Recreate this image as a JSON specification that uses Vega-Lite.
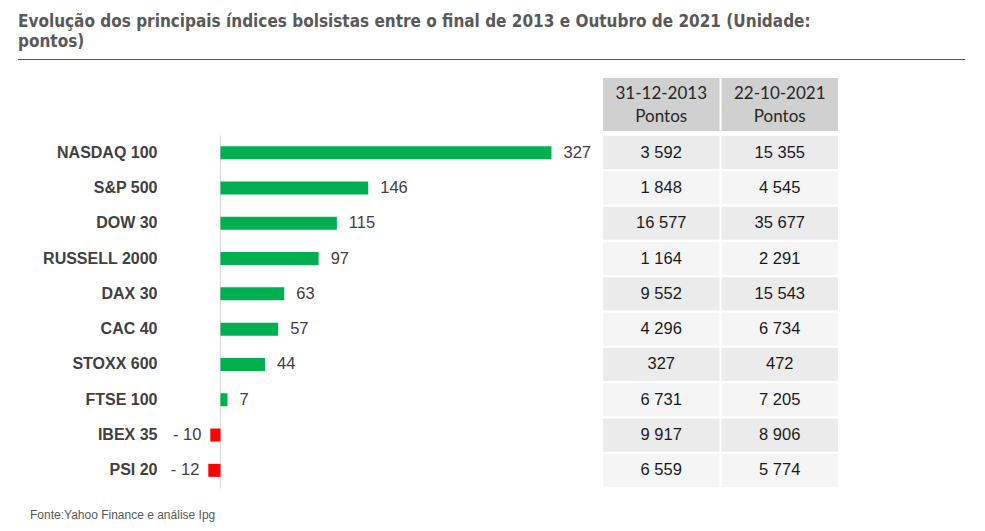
{
  "$schema": "https://vega.github.io/schema/vega-lite/v6.json",
  "padding": {"left": 18, "right": 20, "top": 12, "bottom": 6},
  "background": "white",
  "spacing": 18,
  "bounds": "flush",
  "vconcat": [
    {
      "width": 947,
      "height": 1,
      "view": {"fill": "#595959", "stroke": null},
      "data": {"values": [{"a": 1}]},
      "mark": {"type": "text", "text": ""},
      "title": {
        "text": "Evolução dos principais índices bolsistas entre o final de 2013 e Outubro de 2021 (Unidade:",
        "subtitle": "pontos)",
        "anchor": "start",
        "font": "DejaVu Sans Condensed, Liberation Sans, sans-serif",
        "fontSize": 17,
        "fontWeight": "bold",
        "color": "#595959",
        "subtitleFont": "DejaVu Sans Condensed, Liberation Sans, sans-serif",
        "subtitleFontSize": 17,
        "subtitleFontWeight": "bold",
        "subtitleColor": "#595959",
        "subtitlePadding": 3,
        "offset": 3
      }
    },
    {
      "columns": 2,
      "spacing": {"row": 4, "column": 8},
      "bounds": "flush",
      "concat": [
        {
          "width": 577,
          "height": 53,
          "data": {"values": [{"a": 1}]},
          "mark": {"type": "text", "text": ""}
        },
        {
          "width": 235,
          "height": 53,
          "data": {"values": [
            {"col": "31-12-2013", "cab": "31-12-2013\nPontos"},
            {"col": "22-10-2021", "cab": "22-10-2021\nPontos"}
          ]},
          "encoding": {
            "x": {"field": "col", "type": "nominal", "sort": null, "axis": null, "scale": {"paddingInner": 0.017, "paddingOuter": 0}}
          },
          "layer": [
            {"mark": {"type": "rect", "color": "#d0d0d0"}},
            {
              "mark": {"type": "text", "font": "Lato", "fontSize": 17, "color": "#262626", "lineBreak": "\n", "lineHeight": 23, "dy": -11},
              "encoding": {"text": {"field": "cab", "type": "nominal"}}
            }
          ]
        },
        {
          "width": 577,
          "height": 353,
          "data": {"values": [
            {"indice": "NASDAQ 100", "variacao": 327},
            {"indice": "S&P 500", "variacao": 146},
            {"indice": "DOW 30", "variacao": 115},
            {"indice": "RUSSELL 2000", "variacao": 97},
            {"indice": "DAX 30", "variacao": 63},
            {"indice": "CAC 40", "variacao": 57},
            {"indice": "STOXX 600", "variacao": 44},
            {"indice": "FTSE 100", "variacao": 7},
            {"indice": "IBEX 35", "variacao": -10},
            {"indice": "PSI 20", "variacao": -12}
          ]},
          "title": {
            "text": "Fonte:Yahoo Finance e análise Ipg",
            "orient": "bottom",
            "anchor": "start",
            "offset": 22,
            "dx": 12,
            "font": "Liberation Sans",
            "fontSize": 12,
            "fontWeight": "normal",
            "color": "#595959"
          },
          "encoding": {
            "y": {
              "field": "indice", "type": "nominal", "sort": null,
              "scale": {"paddingInner": 0, "paddingOuter": 0},
              "axis": {"title": null, "domain": false, "ticks": false, "labelPadding": -139, "labelAlign": "right", "labelFontSize": 16, "labelFontWeight": "bold", "labelColor": "#404040", "labelFont": "Liberation Sans"}
            },
            "x": {
              "field": "variacao", "type": "quantitative",
              "scale": {"domain": [-200, 370], "nice": false},
              "axis": {"values": [0], "grid": true, "gridColor": "#d9d9d9", "gridWidth": 1, "labels": false, "ticks": false, "domain": false, "title": null}
            }
          },
          "layer": [
            {
              "mark": {"type": "bar", "height": 13},
              "encoding": {
                "color": {"condition": {"test": "datum.variacao < 0", "value": "#ff0000"}, "value": "#00b050"}
              }
            },
            {
              "transform": [{"filter": "datum.variacao >= 0"}],
              "mark": {"type": "text", "align": "left", "dx": 12, "fontSize": 16.5, "color": "#404040", "font": "Liberation Sans"},
              "encoding": {
                "text": {"field": "variacao", "type": "quantitative", "format": "d"}
              }
            },
            {
              "transform": [{"filter": "datum.variacao < 0"}],
              "mark": {"type": "text", "align": "right", "dx": -9, "fontSize": 16.5, "color": "#404040", "font": "Liberation Sans", "text": {"expr": "'- ' + abs(datum.variacao)"}}
            }
          ]
        },
        {
          "width": 235,
          "height": 353,
          "data": {"values": [
            {"indice": "NASDAQ 100", "ordem": 1, "col": "31-12-2013", "pontos": 3592},
            {"indice": "NASDAQ 100", "ordem": 1, "col": "22-10-2021", "pontos": 15355},
            {"indice": "S&P 500", "ordem": 2, "col": "31-12-2013", "pontos": 1848},
            {"indice": "S&P 500", "ordem": 2, "col": "22-10-2021", "pontos": 4545},
            {"indice": "DOW 30", "ordem": 3, "col": "31-12-2013", "pontos": 16577},
            {"indice": "DOW 30", "ordem": 3, "col": "22-10-2021", "pontos": 35677},
            {"indice": "RUSSELL 2000", "ordem": 4, "col": "31-12-2013", "pontos": 1164},
            {"indice": "RUSSELL 2000", "ordem": 4, "col": "22-10-2021", "pontos": 2291},
            {"indice": "DAX 30", "ordem": 5, "col": "31-12-2013", "pontos": 9552},
            {"indice": "DAX 30", "ordem": 5, "col": "22-10-2021", "pontos": 15543},
            {"indice": "CAC 40", "ordem": 6, "col": "31-12-2013", "pontos": 4296},
            {"indice": "CAC 40", "ordem": 6, "col": "22-10-2021", "pontos": 6734},
            {"indice": "STOXX 600", "ordem": 7, "col": "31-12-2013", "pontos": 327},
            {"indice": "STOXX 600", "ordem": 7, "col": "22-10-2021", "pontos": 472},
            {"indice": "FTSE 100", "ordem": 8, "col": "31-12-2013", "pontos": 6731},
            {"indice": "FTSE 100", "ordem": 8, "col": "22-10-2021", "pontos": 7205},
            {"indice": "IBEX 35", "ordem": 9, "col": "31-12-2013", "pontos": 9917},
            {"indice": "IBEX 35", "ordem": 9, "col": "22-10-2021", "pontos": 8906},
            {"indice": "PSI 20", "ordem": 10, "col": "31-12-2013", "pontos": 6559},
            {"indice": "PSI 20", "ordem": 10, "col": "22-10-2021", "pontos": 5774}
          ]},
          "encoding": {
            "x": {"field": "col", "type": "nominal", "sort": null, "axis": null, "scale": {"paddingInner": 0.017, "paddingOuter": 0}},
            "y": {"field": "indice", "type": "nominal", "sort": null, "axis": null, "scale": {"paddingInner": 0.06, "paddingOuter": 0.03}}
          },
          "layer": [
            {
              "mark": {"type": "rect"},
              "encoding": {"fill": {"condition": {"test": "datum.ordem % 2 == 1", "value": "#ebebeb"}, "value": "#f5f5f5"}}
            },
            {
              "mark": {"type": "text", "fontSize": 16.5, "color": "#1a1a1a", "font": "Liberation Sans", "text": {"expr": "replace(format(datum.pontos, ','), ',', ' ')"}}
            }
          ]
        }
      ]
    }
  ],
  "config": {
    "view": {"stroke": null},
    "font": "Liberation Sans"
  }
}
